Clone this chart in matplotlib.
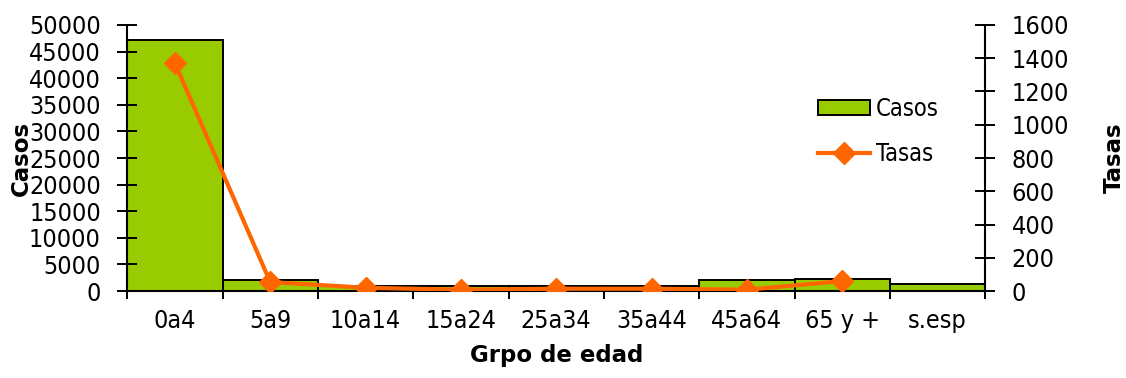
import matplotlib
matplotlib.use('Agg')
import matplotlib.pyplot as plt
import numpy as np

grupos = ['0a4', '5a9', '10a14', '15a24', '25a34', '35a44', '45a64', '65 y +', 's.esp']
casos = [47200, 2000, 1000, 880, 900, 900, 2000, 2200, 1400]
grupos_tasa = grupos[:8]
tasas = [1370, 54, 20, 8, 14, 14, 8, 60]

plt.rcParams['font.family'] = ['DejaVu Sans']
plt.rcParams['font.stretch'] = 'condensed'
plt.rcParams['font.size'] = 18

fig = plt.figure(figsize=(11.26, 3.78), dpi=100)
ax = fig.add_axes([0.113, 0.230, 0.762, 0.704])
x = np.arange(len(grupos))
ax.bar(x, casos, width=1.0, color='#99CC00', edgecolor='black', linewidth=1.4, label='Casos')
ax.set_xlim(-0.5, len(grupos) - 0.5)
ax.set_ylim(0, 50000)
ax.set_yticks(np.arange(0, 50001, 5000))
ax.set_xticks(x)
ax.set_xticklabels(grupos)
# ticks between the categories
ax.set_xticks(np.arange(-0.5, len(grupos)), minor=True)
ax.tick_params(axis='x', which='major', length=0, pad=13)
ax.tick_params(axis='x', which='minor', length=6, width=1.4, direction='out')
ax.tick_params(axis='y', direction='inout', length=14, width=1.4, pad=12)
ax.spines['top'].set_visible(False)
ax.spines['right'].set_visible(False)
ax.spines['left'].set_linewidth(1.5)
ax.spines['bottom'].set_linewidth(1.5)
ax.set_ylabel('Casos', fontsize=16.5, fontweight='bold', fontstretch='normal', labelpad=-3)
ax.set_xlabel('Grpo de edad', fontsize=16.5, fontweight='bold', fontstretch='normal', labelpad=8)

ax2 = ax.twinx()
ax2.plot(np.arange(len(grupos_tasa)), tasas, color='#FF6600', linewidth=3,
         marker='D', markersize=11, label='Tasas')
ax2.set_ylim(0, 1600)
ax2.set_yticks(np.arange(0, 1601, 200))
ax2.tick_params(axis='y', direction='inout', length=14, width=1.4, pad=12)
ax2.spines['top'].set_visible(False)
ax2.spines['left'].set_visible(False)
ax2.spines['bottom'].set_visible(False)
ax2.spines['right'].set_linewidth(1.5)
ax2.set_ylabel('Tasas', fontsize=16.5, fontweight='bold', fontstretch='normal', labelpad=24)

h1, l1 = ax.get_legend_handles_labels()
h2, l2 = ax2.get_legend_handles_labels()
ax2.legend(h1 + h2, l1 + l2, loc='upper left', bbox_to_anchor=(0.78, 0.81),
           frameon=False, handlelength=2.2, handleheight=0.55, handletextpad=0.25,
           labelspacing=0.9, fontsize=17)

fig.savefig('out.png', dpi=100)
